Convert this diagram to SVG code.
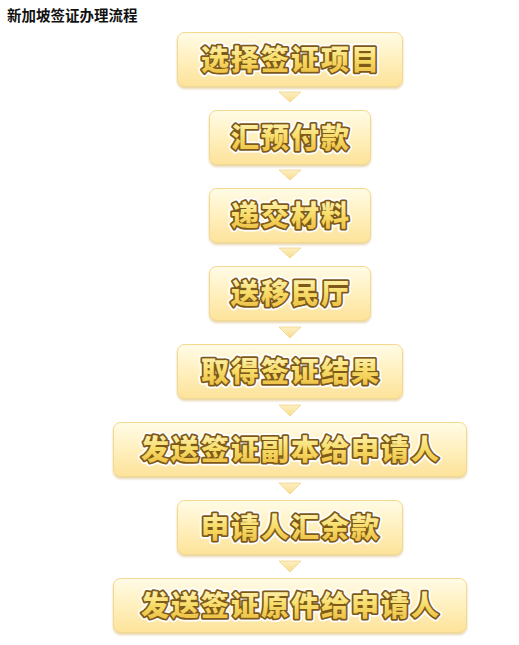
<svg xmlns="http://www.w3.org/2000/svg" width="519" height="645" viewBox="0 0 519 645">
<defs>
<linearGradient id="boxg" x1="0" y1="0" x2="0" y2="1">
<stop offset="0" stop-color="#fffbe6"/>
<stop offset="0.45" stop-color="#fff1c2"/>
<stop offset="1" stop-color="#fde39a"/>
</linearGradient>
<linearGradient id="txtg" x1="0" y1="0" x2="0" y2="1">
<stop offset="0" stop-color="#fffbd2"/>
<stop offset="0.5" stop-color="#f8de6c"/>
<stop offset="1" stop-color="#eab838"/>
</linearGradient>
<linearGradient id="arrg" x1="0" y1="0" x2="0" y2="1">
<stop offset="0" stop-color="#fdf0c4"/>
<stop offset="1" stop-color="#f8dc8c"/>
</linearGradient>
<filter id="sh" x="-10%" y="-20%" width="120%" height="150%">
<feGaussianBlur in="SourceAlpha" stdDeviation="1.2"/>
<feOffset dx="0" dy="1.5" result="b"/>
<feFlood flood-color="#c9a24a" flood-opacity="0.45"/>
<feComposite in2="b" operator="in"/>
<feMerge><feMergeNode/><feMergeNode in="SourceGraphic"/></feMerge>
</filter>
</defs>
<style>
.title{font-family:"Liberation Serif","Noto Sans CJK SC",serif;font-size:14.5px;font-weight:bold;fill:#111}
.box{fill:url(#boxg);stroke:#f3d98e;stroke-width:1;filter:url(#sh)}
.t{font-family:"Noto Sans CJK SC","Noto Sans CJK TC",sans-serif;font-size:28px;font-weight:900;text-anchor:middle;letter-spacing:2px}
.halo{fill:#fff;stroke:#fff;stroke-width:7;stroke-linejoin:round}
.out{fill:#7d5a1a;stroke:#7d5a1a;stroke-width:3.5;stroke-linejoin:round}
.fill{fill:url(#txtg)}
.arr{fill:url(#arrg);stroke:#f1d48a;stroke-width:0.8}
</style>
<rect width="519" height="645" fill="#fff"/>
<text class="title" x="7" y="21">新加坡签证办理流程</text>

<g id="connectors">
<polygon class="arr" points="279,92 301,92 290,102"/>
<polygon class="arr" points="279,170 301,170 290,180"/>
<polygon class="arr" points="279,248 301,248 290,258"/>
<polygon class="arr" points="279,327 301,327 290,338"/>
<polygon class="arr" points="279,405 301,405 290,416"/>
<polygon class="arr" points="279,483 301,483 290,494"/>
<polygon class="arr" points="279,561 301,561 290,572"/>
</g>

<g id="n1">
<rect class="box" x="177.5" y="32.5" width="225" height="54" rx="7"/>
<text class="t halo" x="291" y="70">选择签证项目</text>
<text class="t out" x="291" y="70">选择签证项目</text>
<text class="t fill" x="291" y="70">选择签证项目</text>
</g>
<g id="n2">
<rect class="box" x="209.5" y="110.5" width="161" height="54" rx="7"/>
<text class="t halo" x="291" y="148">汇预付款</text>
<text class="t out" x="291" y="148">汇预付款</text>
<text class="t fill" x="291" y="148">汇预付款</text>
</g>
<g id="n3">
<rect class="box" x="209.5" y="188.5" width="161" height="54" rx="7"/>
<text class="t halo" x="291" y="226">递交材料</text>
<text class="t out" x="291" y="226">递交材料</text>
<text class="t fill" x="291" y="226">递交材料</text>
</g>
<g id="n4">
<rect class="box" x="209.5" y="266.5" width="161" height="54" rx="7"/>
<text class="t halo" x="291" y="304">送移民厅</text>
<text class="t out" x="291" y="304">送移民厅</text>
<text class="t fill" x="291" y="304">送移民厅</text>
</g>
<g id="n5">
<rect class="box" x="177.5" y="344.5" width="225" height="54" rx="7"/>
<text class="t halo" x="291" y="382">取得签证结果</text>
<text class="t out" x="291" y="382">取得签证结果</text>
<text class="t fill" x="291" y="382">取得签证结果</text>
</g>
<g id="n6">
<rect class="box" x="113.5" y="422.5" width="353" height="54" rx="7"/>
<text class="t halo" x="291" y="460">发送签证副本给申请人</text>
<text class="t out" x="291" y="460">发送签证副本给申请人</text>
<text class="t fill" x="291" y="460">发送签证副本给申请人</text>
</g>
<g id="n7">
<rect class="box" x="177.5" y="500.5" width="225" height="54" rx="7"/>
<text class="t halo" x="291" y="538">申请人汇余款</text>
<text class="t out" x="291" y="538">申请人汇余款</text>
<text class="t fill" x="291" y="538">申请人汇余款</text>
</g>
<g id="n8">
<rect class="box" x="113.5" y="578.5" width="353" height="54" rx="7"/>
<text class="t halo" x="291" y="616">发送签证原件给申请人</text>
<text class="t out" x="291" y="616">发送签证原件给申请人</text>
<text class="t fill" x="291" y="616">发送签证原件给申请人</text>
</g>
</svg>
